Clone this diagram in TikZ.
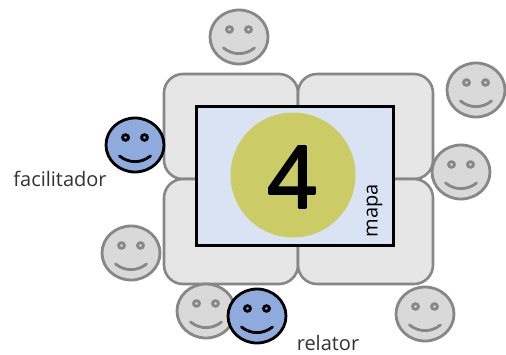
\documentclass[tikz,border=0pt]{standalone}
\usepackage{fontspec}
\setmainfont{Open Sans}
\usetikzlibrary{shapes.geometric}
\definecolor{tablefill}{HTML}{E6E6E6}
\definecolor{tableline}{HTML}{878787}
\definecolor{mapfill}{HTML}{DAE3F3}
\definecolor{discfill}{HTML}{CCCC66}
\definecolor{greyface}{HTML}{D9D9D9}
\definecolor{blueface}{HTML}{8FAADC}
\definecolor{labeltext}{HTML}{333333}
\tikzset{
  tablebox/.style={draw=tableline,fill=tablefill,line width=2.6pt,rounded corners=19pt},
  labeltxt/.style={font=\fontsize{20}{22}\selectfont,text=labeltext,inner sep=0pt}
}
\newcommand{\smiley}[4]{% name, x, y, line
  \begin{scope}[shift={(#2,#3)}]
    \node[ellipse,draw=#4,fill=\facecol,line width=2.8pt,minimum width=58pt,minimum height=54pt,inner sep=0pt] (#1) at (0,0) {};
    \draw[#4,line width=2.8pt,fill=none] (-9.5,-7.5) ellipse (3 and 2.8);
    \draw[#4,line width=2.8pt,fill=none] (9.5,-7.5) ellipse (3 and 2.8);
    \draw[#4,line width=2.8pt,line cap=round] (-15.5,11) .. controls (-6,18.5) and (6,18.5) .. (15.5,11);
  \end{scope}}
\begin{document}
\begin{tikzpicture}[x=1pt,y=-1pt]
\useasboundingbox (0,0) rectangle (506,354);
\path[fill=white] (0,0) rectangle (506,354);
% tables
\draw[tablebox] (164,74) rectangle (298,179);
\draw[tablebox] (298,74) rectangle (433,179);
\draw[tablebox] (164,179) rectangle (298,284);
\draw[tablebox] (298,179) rectangle (433,284);
% map
\node[draw=black,fill=mapfill,line width=3pt,minimum width=197pt,minimum height=139pt,inner sep=0pt] (map) at (294.5,175.5) {};
\node[circle,fill=discfill,minimum size=125pt,inner sep=0pt] (disc) at (293,175) {};
\node[font=\fontsize{86}{96}\selectfont,inner sep=0pt,text=black] (num) at (292,177) {\special{pdf:literal 2 Tr 1 j 2.2 w}4\special{pdf:literal 0 Tr 0 j}};
\node[labeltxt,rotate=90,text=black] (mapa) at (374.5,211) {mapa};
% faces
\def\facecol{greyface}
\smiley{f1}{239}{37}{tableline}
\smiley{f2}{476}{90}{tableline}
\smiley{f3}{461}{172}{tableline}
\smiley{f4}{131}{253}{tableline}
\smiley{f5}{206}{311}{tableline}
\smiley{f6}{425}{314}{tableline}
\def\facecol{blueface}
\smiley{fac}{135}{145}{black}
\smiley{rel}{257}{316}{black}
\node[labeltxt] (factxt) at (60,178.5) {facilitador};
\node[labeltxt] (reltxt) at (328,343) {relator};
\end{tikzpicture}
\end{document}
